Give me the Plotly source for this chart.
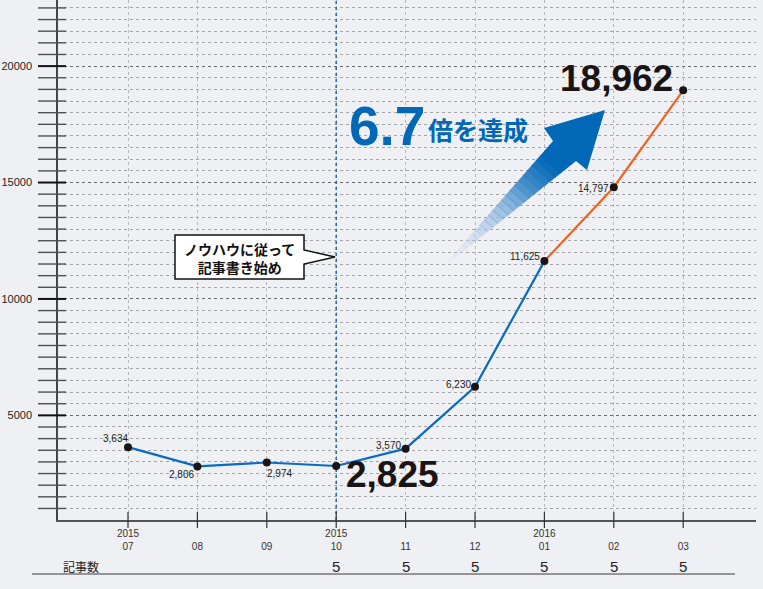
import plotly.graph_objects as go

# ---------------- data ----------------
months = ["07", "08", "09", "10", "11", "12", "01", "02", "03"]
years = ["2015", "", "", "2015", "", "", "2016", "", ""]
views = [3634, 2806, 2974, 2825, 3570, 6230, 11625, 14797, 18962]
view_labels = ["3,634", "2,806", "2,974", "2,825", "3,570", "6,230", "11,625", "14,797", "18,962"]
articles = [None, None, None, 5, 5, 5, 5, 5, 5]
y_ticks = [5000, 10000, 15000, 20000]
y_tick_labels = ["5000", "10000", "15000", "20000"]
start_index = 3          # 2015-10: started writing with the know-how
orange_from = 6          # 2016-01 onward drawn in orange
y_range = [505, 22840]

# ---------------- geometry helpers (pixel -> paper) ----------------
W, H = 763, 589
L, R, T, B = 58, 7, 0, 69
PW, PH = W - L - R, H - T - B


def px(x):
    return (x - L) / PW


def py(y):
    return (PH + T - y) / PH


BG = "#eff0f4"
BLUE = "#0a6cc0"
ORANGE = "#f0641e"
TXT = "#222222"
FONT = "Liberation Sans, Arial, sans-serif"
CJK = "Noto Sans CJK JP, sans-serif"

x = list(range(len(months)))
tick_text = [(y + "<br>" + m) if y else ("\u00a0<br>" + m) for y, m in zip(years, months)]

fig = go.Figure()

# blue dotted marker line at the start month (drawn over grid, under data)
fig.add_trace(go.Scatter(x=[start_index, start_index], y=y_range, mode="lines",
                         line=dict(color="#1f6fc8", width=1.6, dash="dot"),
                         hoverinfo="skip", showlegend=False))
fig.add_trace(go.Scatter(x=x[:orange_from + 1], y=views[:orange_from + 1], mode="lines",
                         line=dict(color=BLUE, width=2.2), hoverinfo="skip", showlegend=False))
fig.add_trace(go.Scatter(x=x[orange_from:], y=views[orange_from:], mode="lines",
                         line=dict(color=ORANGE, width=2.2), hoverinfo="skip", showlegend=False))
fig.add_trace(go.Scatter(x=x, y=views, mode="markers",
                         marker=dict(color="#1a1414", size=8), showlegend=False))

shapes = []
for v in range(1000, 22501, 500):
    major = v % 5000 == 0
    shapes.append(dict(type="line", xref="paper", yref="y", x0=px(38), x1=px(66), y0=v, y1=v,
                       line=dict(color="#111111" if major else "#505050", width=2 if major else 1.4),
                       layer="above"))
for i in x:
    shapes.append(dict(type="line", xref="x", yref="paper", x0=i, x1=i, y0=py(528), y1=py(512),
                       line=dict(color="#333333", width=1.2)))
shapes.append(dict(type="line", xref="paper", yref="paper", x0=px(32), x1=px(735), y0=py(574), y1=py(574),
                   line=dict(color="#777777", width=1.4)))

cpts = [(175, 235), (304, 235), (304, 250), (335, 257), (304, 264), (304, 279), (175, 279)]
cpath = "M " + " L ".join(f"{px(a):.5f},{py(b):.5f}" for a, b in cpts) + " Z"
shapes.append(dict(type="path", xref="paper", yref="paper", path=cpath,
                   fillcolor="white", line=dict(color="#111111", width=1.5)))

TL = (440, 270)
A = (553, 141)
Bp = (576, 161)
N = 26
for i in range(N):
    t0, t1 = i / N, (i + 1) / N
    tm = (t0 + t1) / 2
    p = [(TL[0] + t0 * (A[0] - TL[0]), TL[1] + t0 * (A[1] - TL[1])),
         (TL[0] + (t1 + 0.01) * (A[0] - TL[0]), TL[1] + (t1 + 0.01) * (A[1] - TL[1])),
         (TL[0] + (t1 + 0.01) * (Bp[0] - TL[0]), TL[1] + (t1 + 0.01) * (Bp[1] - TL[1])),
         (TL[0] + t0 * (Bp[0] - TL[0]), TL[1] + t0 * (Bp[1] - TL[1]))]
    s = min(1.0, tm ** 1.6 * 1.2)
    r = int(215 + (0 - 215) * s)
    g = int(222 + (104 - 222) * s)
    b = int(242 + (183 - 242) * s)
    a = min(1.0, 0.1 + tm * 1.3)
    path = "M " + " L ".join(f"{px(u):.5f},{py(w):.5f}" for u, w in p) + " Z"
    shapes.append(dict(type="path", xref="paper", yref="paper", path=path,
                       fillcolor=f"rgba({r},{g},{b},{a:.3f})", line=dict(width=0)))
head = [(605, 110), (544, 128), A, Bp, (587, 170)]
hpath = "M " + " L ".join(f"{px(u):.5f},{py(w):.5f}" for u, w in head) + " Z"
shapes.append(dict(type="path", xref="paper", yref="paper", path=hpath,
                   fillcolor="#0068b7", line=dict(width=0)))

annotations = []
offsets = [(-13, 9), (-16, -8), (13, -11), (56, -11), (-17, 3), (-17, 2), (-19, 5), (-20, -1), (-67, 10)]
big = {3, 8}
for i, (lab, (dx, dy)) in enumerate(zip(view_labels, offsets)):
    if i in big:
        annotations.append(dict(x=i, y=views[i], xref="x", yref="y", text="<b>" + lab + "</b>",
                                showarrow=False, xshift=dx, yshift=dy + 2,
                                xanchor="center", yanchor="middle",
                                font=dict(family=FONT, size=37, color="#1a1414")))
    else:
        annotations.append(dict(x=i, y=views[i], xref="x", yref="y", text=lab,
                                showarrow=False, xshift=dx, yshift=dy,
                                xanchor="center", yanchor="middle",
                                font=dict(family=FONT, size=10, color=TXT)))

annotations.append(dict(x=px(239), y=py(258), xref="paper", yref="paper",
                        xanchor="center", yanchor="middle",
                        text="<b>ノウハウに従って<br>記事書き始め</b>", showarrow=False,
                        font=dict(family=CJK, size=14, color="#111111")))
annotations.append(dict(x=px(427), y=py(126), xref="paper", yref="paper",
                        xanchor="right", yanchor="middle",
                        text="<b>6.7</b>", showarrow=False,
                        font=dict(family=FONT, size=55, color="#0068b7")))
annotations.append(dict(x=px(426), y=py(129), xref="paper", yref="paper",
                        xanchor="left", yanchor="middle",
                        text="<b>倍を達成</b>", showarrow=False,
                        font=dict(family=CJK, size=25, color="#0068b7")))

annotations.append(dict(x=px(81), y=py(566), xref="paper", yref="paper", text="記事数",
                        xanchor="center", yanchor="middle",
                        showarrow=False, font=dict(family=CJK, size=12, color=TXT)))
for i, n in enumerate(articles):
    if n is not None:
        annotations.append(dict(x=i, y=py(566), xref="x", yref="paper", text=str(n),
                                xanchor="center", yanchor="middle",
                                showarrow=False, font=dict(family=FONT, size=15, color=TXT)))

fig.update_layout(
    width=W, height=H,
    margin=dict(l=L, r=R, t=T, b=B, autoexpand=False),
    paper_bgcolor=BG, plot_bgcolor=BG,
    showlegend=False,
    shapes=shapes,
    annotations=annotations,
    xaxis=dict(range=[(L - 128) / 69.4, (W - R - 128) / 69.4], tickmode="array",
               tickvals=x, ticktext=tick_text, ticks="outside", ticklen=3,
               tickcolor="rgba(0,0,0,0)", showline=True, linecolor="#555555", linewidth=1.5,
               showgrid=True, gridcolor="#b8b8bc", gridwidth=1, griddash="dot",
               zeroline=False, automargin=False,
               tickfont=dict(family=FONT, size=10, color="#333333")),
    yaxis=dict(range=y_range, tickmode="array", tickvals=y_ticks, ticktext=y_tick_labels,
               ticks="outside", ticklen=22, tickcolor="rgba(0,0,0,0)",
               showline=True, linecolor="#444444", linewidth=1.5,
               showgrid=True, gridcolor="#6a6a6e", gridwidth=1.4, griddash="dot",
               minor=dict(dtick=500, tick0=0, showgrid=True, gridcolor="#a4a4a8",
                          gridwidth=1, griddash="dot"),
               zeroline=False, automargin=False,
               tickfont=dict(family=FONT, size=11, color=TXT)),
)

fig.write_html("out.html", config={"displayModeBar": False},
               post_script="document.body.style.margin='0';document.body.style.background='#eff0f4';")
